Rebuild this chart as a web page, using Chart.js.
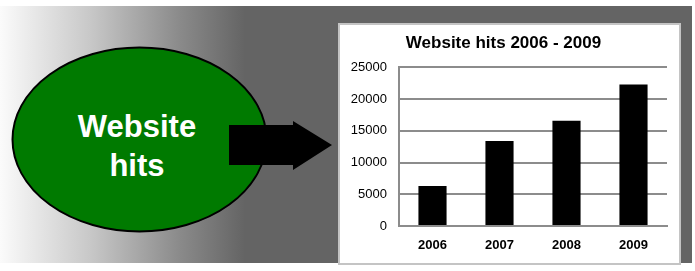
<!DOCTYPE html>
<html>
<head>
<meta charset="utf-8">
<script src="https://cdn.jsdelivr.net/npm/chart.js@4/dist/chart.umd.min.js"></script>
<style>
  html, body { margin: 0; padding: 0; background: #fff; }
  #stage { position: relative; width: 695px; height: 271px; overflow: hidden; font-family: "Liberation Sans", Arial, sans-serif; }
  #bg { position: absolute; left: 0; top: 6px; width: 692px; height: 257px;
        background: linear-gradient(to right, #fbfbfb 0px, #c8c8c8 90px, #8a8a8a 180px, #646464 245px, #646464 100%); }
  #deco { position: absolute; left: 0; top: 0; }
  #box { position: absolute; left: 338px; top: 23px; width: 343px; height: 242px; box-sizing: border-box;
         background: #fff; border: 2px solid #c4c4c4; }
  #wrap { position: absolute; left: 0; top: 0; width: 339px; height: 238px; }
</style>
</head>
<body>
<div id="stage">
  <div id="bg"></div>
  <svg id="deco" width="695" height="271">
    <ellipse cx="139.5" cy="139.5" rx="127" ry="92" fill="#007a00" stroke="#000" stroke-width="2"/>
    <text x="137" y="129" fill="#fff" font-family="Liberation Sans, Arial, sans-serif" font-weight="bold"
          font-size="31" text-anchor="middle" dominant-baseline="middle">Website</text>
    <text x="137" y="168" fill="#fff" font-family="Liberation Sans, Arial, sans-serif" font-weight="bold"
          font-size="31" text-anchor="middle" dominant-baseline="middle">hits</text>
    <polygon points="229,125 293,125 293,121 332,145 293,170 293,165 229,165" fill="#000"/>
  </svg>
  <div id="box">
    <div id="wrap"><canvas id="chart"></canvas></div>
  </div>
</div>
<script>
const years = ['2006', '2007', '2008', '2009'];
const hits = [6300, 13400, 16600, 22300];
const chartTitle = 'Website hits 2006 - 2009';

const gridGray = '#8c8c8c';
const font = '"Liberation Sans", Arial, sans-serif';

new Chart(document.getElementById('chart'), {
  type: 'bar',
  data: {
    labels: years,
    datasets: [{
      label: 'Hits',
      data: hits,
      backgroundColor: '#000',
      borderWidth: 0,
      categoryPercentage: 1,
      barPercentage: 0.42
    }]
  },
  options: {
    responsive: true,
    maintainAspectRatio: false,
    animation: false,
    layout: { padding: { left: 0, right: 12, top: 0, bottom: 9 } },
    plugins: {
      legend: { display: false },
      tooltip: { enabled: false },
      title: {
        display: true,
        text: chartTitle,
        color: '#000',
        font: { family: font, size: 17, weight: 'bold' },
        padding: { top: 8, bottom: 14 }
      }
    },
    scales: {
      x: {
        afterFit: (s) => { s.height = 28; },
        grid: { display: false, drawTicks: false },
        border: { display: true, color: gridGray, width: 2 },
        ticks: { color: '#000', padding: 12, font: { family: font, size: 13, weight: 'bold' } }
      },
      y: {
        min: 0,
        max: 25000,
        afterFit: (s) => { s.width = 59; },
        grid: { color: gridGray, lineWidth: 2, drawTicks: false },
        border: { display: true, color: gridGray, width: 2 },
        ticks: {
          stepSize: 5000, color: '#000', padding: 12,
          font: { family: font, size: 13 },
          callback: (v) => String(v)
        }
      }
    }
  }
});
</script>
</body>
</html>
